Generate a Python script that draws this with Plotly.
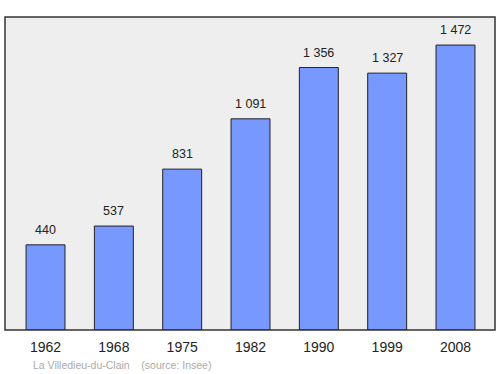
import plotly.graph_objects as go

years = ["1962", "1968", "1975", "1982", "1990", "1999", "2008"]
population = [440, 537, 831, 1091, 1356, 1327, 1472]
labels = ["440", "537", "831", "1 091", "1 356", "1 327", "1 472"]

fig = go.Figure()
fig.add_trace(go.Bar(
    x=years, y=population,
    marker=dict(color="#7799ff", line=dict(color="#222", width=1)),
    width=0.57,
))
annots = [dict(x=i, y=y, text=t, xref="x", yref="y", showarrow=False,
               yanchor="bottom", yshift=6,
               font=dict(size=12.5, color="#222"))
          for i, (y, t) in enumerate(zip(population, labels))]
annots.append(dict(text="La Villedieu-du-Clain &nbsp;&nbsp; (source: Insee)", xref="paper", yref="paper",
                   x=0.053, y=-0.113, xanchor="left", yanchor="middle", showarrow=False,
                   font=dict(size=10.5, color="#aaaaaa")))
fig.update_layout(
    width=500, height=374,
    margin=dict(l=5, r=5, t=17, b=44),
    paper_bgcolor="white", plot_bgcolor="#eeeeee",
    showlegend=False,
    font=dict(family="Liberation Sans, Arial"),
    xaxis=dict(type="category", range=[-0.593, 6.578], showgrid=False, zeroline=False,
               ticks="outside", ticklen=4, tickcolor="rgba(0,0,0,0)",
               tickfont=dict(size=14, color="#222")),
    yaxis=dict(range=[0, 1617], showgrid=False, zeroline=False, showticklabels=False),
    shapes=[dict(type="rect", xref="paper", yref="paper", x0=0, y0=0, x1=1, y1=1,
                 line=dict(color="#333", width=1.5))],
    annotations=annots,
)
fig.write_html("out.html")
